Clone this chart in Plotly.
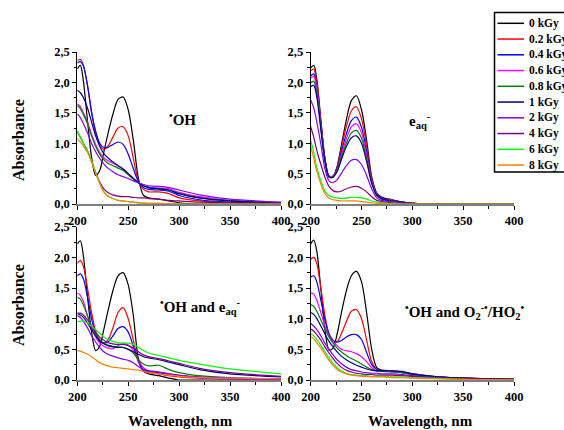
import plotly.graph_objects as go

# ---------------- data ----------------
WAVELENGTH = [200, 203, 206, 210, 214, 218, 222, 226, 230, 235, 240, 245, 250,
              255, 260, 265, 270, 280, 290, 300, 320, 350, 400]

DOSES = ["0 kGy", "0.2 kGy", "0.4 kGy", "0.6 kGy", "0.8 kGy",
         "1 kGy", "2 kGy", "4 kGy", "6 kGy", "8 kGy"]

# panel 1: •OH
OH_SPECTRA = [
    [2.22, 2.28, 2.02, 1.37, 0.77, 0.47, 0.55, 0.85, 1.15, 1.48, 1.72, 1.76, 1.55, 1.05, 0.42, 0.14, 0.10, 0.08, 0.05, 0.02, 0.00, 0.00, 0.00],
    [2.36, 2.38, 2.28, 1.95, 1.50, 1.18, 0.98, 0.90, 0.95, 1.10, 1.25, 1.27, 1.12, 0.75, 0.38, 0.24, 0.20, 0.20, 0.17, 0.10, 0.05, 0.02, 0.01],
    [2.32, 2.34, 2.27, 1.95, 1.52, 1.20, 1.00, 0.93, 0.93, 0.98, 1.02, 0.98, 0.82, 0.58, 0.37, 0.27, 0.24, 0.23, 0.21, 0.14, 0.07, 0.03, 0.01],
    [1.65, 1.60, 1.50, 1.35, 1.15, 0.98, 0.85, 0.76, 0.71, 0.67, 0.63, 0.58, 0.50, 0.42, 0.35, 0.30, 0.28, 0.26, 0.25, 0.19, 0.12, 0.06, 0.02],
    [1.62, 1.57, 1.47, 1.32, 1.12, 0.95, 0.82, 0.73, 0.67, 0.63, 0.59, 0.55, 0.48, 0.41, 0.35, 0.30, 0.27, 0.25, 0.23, 0.17, 0.10, 0.05, 0.02],
    [1.87, 1.83, 1.75, 1.58, 1.35, 1.12, 0.95, 0.83, 0.76, 0.69, 0.63, 0.57, 0.50, 0.42, 0.35, 0.30, 0.27, 0.25, 0.23, 0.17, 0.10, 0.05, 0.02],
    [1.48, 1.42, 1.32, 1.17, 1.00, 0.86, 0.75, 0.66, 0.59, 0.53, 0.48, 0.45, 0.42, 0.38, 0.35, 0.32, 0.30, 0.29, 0.27, 0.23, 0.15, 0.08, 0.03],
    [1.18, 1.10, 1.00, 0.87, 0.70, 0.52, 0.36, 0.25, 0.19, 0.15, 0.13, 0.12, 0.12, 0.11, 0.10, 0.10, 0.09, 0.08, 0.06, 0.05, 0.03, 0.02, 0.01],
    [1.21, 1.10, 1.00, 0.88, 0.72, 0.52, 0.34, 0.20, 0.13, 0.09, 0.06, 0.05, 0.04, 0.03, 0.02, 0.015, 0.01, 0.01, 0.005, 0.0, 0.0, 0.0, 0.0],
    [1.08, 1.02, 0.95, 0.85, 0.70, 0.51, 0.34, 0.20, 0.13, 0.09, 0.06, 0.05, 0.04, 0.03, 0.02, 0.015, 0.01, 0.01, 0.005, 0.0, 0.0, 0.0, 0.0],
]

# panel 2: e_aq-
EAQ_SPECTRA = [
    [2.24, 2.28, 2.05, 1.38, 0.75, 0.45, 0.45, 0.62, 0.95, 1.38, 1.70, 1.78, 1.55, 1.05, 0.45, 0.18, 0.11, 0.07, 0.03, 0.01, 0.005, 0.0, 0.0],
    [2.19, 2.22, 2.00, 1.36, 0.75, 0.46, 0.46, 0.60, 0.90, 1.27, 1.53, 1.60, 1.40, 0.95, 0.42, 0.17, 0.10, 0.07, 0.03, 0.01, 0.005, 0.0, 0.0],
    [2.11, 2.14, 1.93, 1.32, 0.74, 0.46, 0.46, 0.58, 0.84, 1.15, 1.37, 1.43, 1.26, 0.86, 0.40, 0.16, 0.10, 0.06, 0.03, 0.01, 0.005, 0.0, 0.0],
    [2.07, 2.10, 1.89, 1.30, 0.73, 0.46, 0.46, 0.56, 0.80, 1.07, 1.27, 1.32, 1.17, 0.80, 0.38, 0.15, 0.09, 0.06, 0.03, 0.01, 0.005, 0.0, 0.0],
    [1.99, 2.02, 1.82, 1.26, 0.71, 0.45, 0.45, 0.55, 0.76, 1.00, 1.17, 1.21, 1.08, 0.74, 0.36, 0.15, 0.09, 0.06, 0.03, 0.01, 0.005, 0.0, 0.0],
    [1.93, 1.95, 1.76, 1.22, 0.70, 0.44, 0.44, 0.53, 0.72, 0.94, 1.09, 1.12, 1.00, 0.70, 0.34, 0.14, 0.08, 0.05, 0.03, 0.01, 0.005, 0.0, 0.0],
    [1.71, 1.58, 1.35, 0.98, 0.58, 0.38, 0.35, 0.40, 0.50, 0.63, 0.72, 0.73, 0.65, 0.47, 0.25, 0.10, 0.06, 0.04, 0.02, 0.01, 0.0, 0.0, 0.0],
    [1.27, 1.10, 0.88, 0.65, 0.44, 0.29, 0.22, 0.20, 0.21, 0.25, 0.28, 0.29, 0.26, 0.20, 0.12, 0.06, 0.04, 0.02, 0.01, 0.0, 0.0, 0.0, 0.0],
    [1.05, 0.85, 0.60, 0.38, 0.21, 0.14, 0.11, 0.10, 0.09, 0.10, 0.11, 0.11, 0.10, 0.08, 0.05, 0.03, 0.02, 0.01, 0.0, 0.0, 0.0, 0.0, 0.0],
    [0.95, 0.75, 0.54, 0.33, 0.17, 0.10, 0.07, 0.06, 0.05, 0.05, 0.05, 0.05, 0.04, 0.03, 0.02, 0.01, 0.01, 0.0, 0.0, 0.0, 0.0, 0.0, 0.0],
]

# panel 3: •OH and e_aq-
OH_EAQ_SPECTRA = [
    [2.22, 2.27, 2.02, 1.37, 0.78, 0.48, 0.55, 0.82, 1.12, 1.46, 1.70, 1.75, 1.55, 1.05, 0.35, 0.14, 0.10, 0.07, 0.03, 0.0, 0.0, 0.0, 0.0],
    [1.90, 1.95, 1.85, 1.50, 1.10, 0.80, 0.65, 0.60, 0.65, 0.85, 1.10, 1.18, 1.00, 0.65, 0.30, 0.15, 0.12, 0.10, 0.07, 0.05, 0.03, 0.02, 0.01],
    [1.70, 1.73, 1.65, 1.35, 1.00, 0.75, 0.63, 0.60, 0.62, 0.72, 0.84, 0.87, 0.78, 0.55, 0.30, 0.17, 0.14, 0.12, 0.09, 0.07, 0.04, 0.02, 0.01],
    [1.42, 1.38, 1.28, 1.05, 0.85, 0.70, 0.60, 0.55, 0.52, 0.51, 0.56, 0.60, 0.57, 0.48, 0.32, 0.20, 0.15, 0.13, 0.10, 0.07, 0.04, 0.02, 0.01],
    [1.35, 1.32, 1.22, 1.05, 0.88, 0.75, 0.66, 0.60, 0.57, 0.55, 0.54, 0.53, 0.50, 0.44, 0.33, 0.26, 0.23, 0.24, 0.17, 0.12, 0.07, 0.04, 0.02],
    [1.08, 1.06, 1.02, 0.93, 0.82, 0.72, 0.64, 0.59, 0.56, 0.54, 0.53, 0.53, 0.50, 0.46, 0.42, 0.38, 0.36, 0.33, 0.29, 0.25, 0.17, 0.10, 0.05],
    [1.05, 1.02, 0.96, 0.85, 0.72, 0.62, 0.53, 0.46, 0.42, 0.39, 0.36, 0.34, 0.32, 0.28, 0.22, 0.17, 0.15, 0.13, 0.10, 0.08, 0.05, 0.03, 0.01],
    [1.09, 1.09, 1.06, 0.98, 0.88, 0.78, 0.70, 0.65, 0.61, 0.59, 0.58, 0.58, 0.56, 0.52, 0.46, 0.41, 0.38, 0.35, 0.31, 0.27, 0.19, 0.12, 0.06],
    [0.95, 0.96, 0.96, 0.93, 0.88, 0.82, 0.76, 0.70, 0.66, 0.63, 0.61, 0.60, 0.60, 0.58, 0.53, 0.48, 0.44, 0.40, 0.36, 0.32, 0.26, 0.18, 0.10],
    [0.48, 0.47, 0.45, 0.42, 0.38, 0.33, 0.28, 0.25, 0.23, 0.21, 0.20, 0.19, 0.18, 0.17, 0.16, 0.14, 0.12, 0.10, 0.08, 0.06, 0.04, 0.03, 0.02],
]

# panel 4: •OH and O2•-/HO2•
OH_O2_SPECTRA = [
    [2.22, 2.28, 2.10, 1.48, 0.82, 0.49, 0.52, 0.75, 1.08, 1.45, 1.70, 1.77, 1.60, 1.10, 0.50, 0.20, 0.16, 0.15, 0.13, 0.10, 0.06, 0.03, 0.01],
    [1.97, 2.00, 1.90, 1.50, 1.05, 0.75, 0.62, 0.62, 0.75, 0.95, 1.12, 1.15, 1.00, 0.65, 0.30, 0.17, 0.15, 0.14, 0.12, 0.09, 0.05, 0.03, 0.01],
    [1.68, 1.70, 1.60, 1.30, 0.98, 0.75, 0.65, 0.62, 0.64, 0.70, 0.74, 0.74, 0.66, 0.45, 0.25, 0.17, 0.15, 0.14, 0.12, 0.09, 0.05, 0.03, 0.01],
    [1.42, 1.40, 1.30, 1.10, 0.88, 0.72, 0.62, 0.56, 0.50, 0.48, 0.46, 0.43, 0.38, 0.30, 0.20, 0.15, 0.14, 0.14, 0.13, 0.10, 0.06, 0.03, 0.01],
    [1.23, 1.20, 1.12, 0.98, 0.83, 0.70, 0.60, 0.52, 0.46, 0.40, 0.35, 0.31, 0.26, 0.21, 0.17, 0.15, 0.14, 0.13, 0.12, 0.09, 0.05, 0.03, 0.01],
    [1.10, 1.07, 1.00, 0.88, 0.75, 0.63, 0.54, 0.46, 0.39, 0.33, 0.28, 0.24, 0.21, 0.18, 0.16, 0.15, 0.15, 0.15, 0.14, 0.10, 0.06, 0.03, 0.01],
    [0.92, 0.88, 0.82, 0.72, 0.60, 0.50, 0.41, 0.33, 0.27, 0.21, 0.17, 0.15, 0.13, 0.12, 0.11, 0.11, 0.10, 0.10, 0.09, 0.07, 0.04, 0.02, 0.01],
    [0.83, 0.80, 0.74, 0.65, 0.54, 0.44, 0.35, 0.27, 0.21, 0.16, 0.13, 0.11, 0.10, 0.09, 0.09, 0.08, 0.08, 0.08, 0.07, 0.06, 0.04, 0.02, 0.01],
    [0.75, 0.72, 0.66, 0.57, 0.46, 0.36, 0.27, 0.20, 0.15, 0.11, 0.09, 0.08, 0.07, 0.07, 0.06, 0.06, 0.06, 0.05, 0.05, 0.04, 0.03, 0.01, 0.0],
    [0.70, 0.67, 0.61, 0.52, 0.42, 0.32, 0.24, 0.17, 0.13, 0.10, 0.08, 0.07, 0.06, 0.06, 0.05, 0.05, 0.05, 0.04, 0.04, 0.03, 0.02, 0.01, 0.0],
]

PANEL_LABELS = [
    "<sup>•</sup>OH",
    "e<sub>aq</sub><sup>-</sup>",
    "<sup>•</sup>OH and e<sub>aq</sub><sup>-</sup>",
    "<sup>•</sup>OH and O<sub>2</sub><sup>-•</sup>/HO<sub>2</sub><sup>•</sup>",
]
Y_TITLE = "Absorbance"
X_TITLE = "Wavelength, nm"
X_TICKS = [200, 250, 300, 350, 400]
Y_TICKS = [0.0, 0.5, 1.0, 1.5, 2.0, 2.5]

# ---------------- styles ----------------
COLORS = ["#000000", "#FF0000", "#0000FF", "#FF00FF", "#008000",
          "#000080", "#8000FF", "#800080", "#00FF00", "#FF8000"]
FONT = "Liberation Serif, Times New Roman, Times, serif"
W, H = 564, 430

def px(x):
    return x / W

def py(y):
    return 1 - y / H

# panel geometry in pixels: (left, right, top, bottom)
PANELS = [
    (77.3, 281.0, 52.0, 204.0),
    (310.7, 514.0, 52.0, 204.0),
    (77.3, 281.0, 226.7, 380.0),
    (310.7, 514.0, 226.7, 380.0),
]
LABEL_POS = [(182, 119), (420, 121), (200, 307), (465, 312)]

fig = go.Figure()
all_spectra = [OH_SPECTRA, EAQ_SPECTRA, OH_EAQ_SPECTRA, OH_O2_SPECTRA]

layout = dict(
    width=W, height=H, autosize=False,
    margin=dict(l=0, r=0, t=0, b=0, pad=0),
    paper_bgcolor="white", plot_bgcolor="white",
    separators=", ",
    showlegend=False,
    font=dict(family=FONT, color="black"),
)

for k, spectra in enumerate(all_spectra):
    sfx = "" if k == 0 else str(k + 1)
    for i, vals in enumerate(spectra):
        fig.add_trace(go.Scatter(
            x=WAVELENGTH, y=vals, mode="lines", name=DOSES[i],
            line=dict(color=COLORS[i], width=1.2, shape="spline", smoothing=0.8),
            xaxis="x" + sfx, yaxis="y" + sfx, showlegend=False,
            hoverinfo="skip",
        ))
    l, r, t, b = PANELS[k]
    layout["xaxis" + sfx] = dict(
        domain=[px(l), px(r)], anchor="y" + sfx, range=[200, 400],
        tickvals=X_TICKS, ticks="outside", ticklen=4, tickwidth=1, tickcolor="black",
        showline=True, linecolor="#7f7f7f", linewidth=2,
        showgrid=False, zeroline=False, automargin=False,
        tickfont=dict(family=FONT, size=12.5, color="black", weight="bold"),
        minor=dict(dtick=25, tick0=200, ticks="outside", ticklen=2.5, tickcolor="black"),
    )
    layout["yaxis" + sfx] = dict(
        domain=[py(b), py(t)], anchor="x" + sfx, range=[0, 2.5],
        tickvals=Y_TICKS, tickformat=".1f", ticks="outside", ticklen=4, tickwidth=1,
        tickcolor="black",
        showline=True, linecolor="black", linewidth=1,
        showgrid=False, zeroline=False, automargin=False,
        tickfont=dict(family=FONT, size=12.5, color="black", weight="bold"),
        minor=dict(dtick=0.25, tick0=0, ticks="outside", ticklen=2.5, tickcolor="black"),
    )

annotations = []
for k, lab in enumerate(PANEL_LABELS):
    x, y = LABEL_POS[k]
    annotations.append(dict(
        text="<b>" + lab + "</b>", x=px(x), y=py(y), xref="paper", yref="paper",
        xanchor="center", yanchor="middle", showarrow=False,
        font=dict(family=FONT, size=15, color="black"),
    ))
for yc in (140, 305):
    annotations.append(dict(
        text="<b>" + Y_TITLE + "</b>", x=px(18), y=py(yc), xref="paper", yref="paper",
        xanchor="center", yanchor="middle", textangle=-90, showarrow=False,
        font=dict(family=FONT, size=16, color="black"),
    ))
for xc in (180, 420):
    annotations.append(dict(
        text="<b>" + X_TITLE + "</b>", x=px(xc), y=py(421), xref="paper", yref="paper",
        xanchor="center", yanchor="middle", showarrow=False,
        font=dict(family=FONT, size=15, color="black"),
    ))

# manual legend (box, line samples and real text labels)
shapes = [dict(type="rect", xref="paper", yref="paper",
               x0=px(494.5), x1=px(570), y0=py(172), y1=py(12.5),
               line=dict(color="black", width=1.5), fillcolor="white", layer="above")]
for i, dose in enumerate(DOSES):
    yrow = 23.3 + i * 15.75
    shapes.append(dict(type="line", xref="paper", yref="paper",
                       x0=px(497.5), x1=px(524), y0=py(yrow), y1=py(yrow),
                       line=dict(color=COLORS[i], width=1.5), layer="above"))
    annotations.append(dict(
        text="<b>" + dose + "</b>", x=px(526.5), y=py(yrow), xref="paper", yref="paper",
        xanchor="left", yanchor="middle", showarrow=False,
        font=dict(family=FONT, size=11.5, color="black"),
    ))

layout["annotations"] = annotations
layout["shapes"] = shapes
fig.update_layout(**layout)
fig.write_html("out.html", config={"displayModeBar": False},
               post_script="document.body.style.margin='0';")
